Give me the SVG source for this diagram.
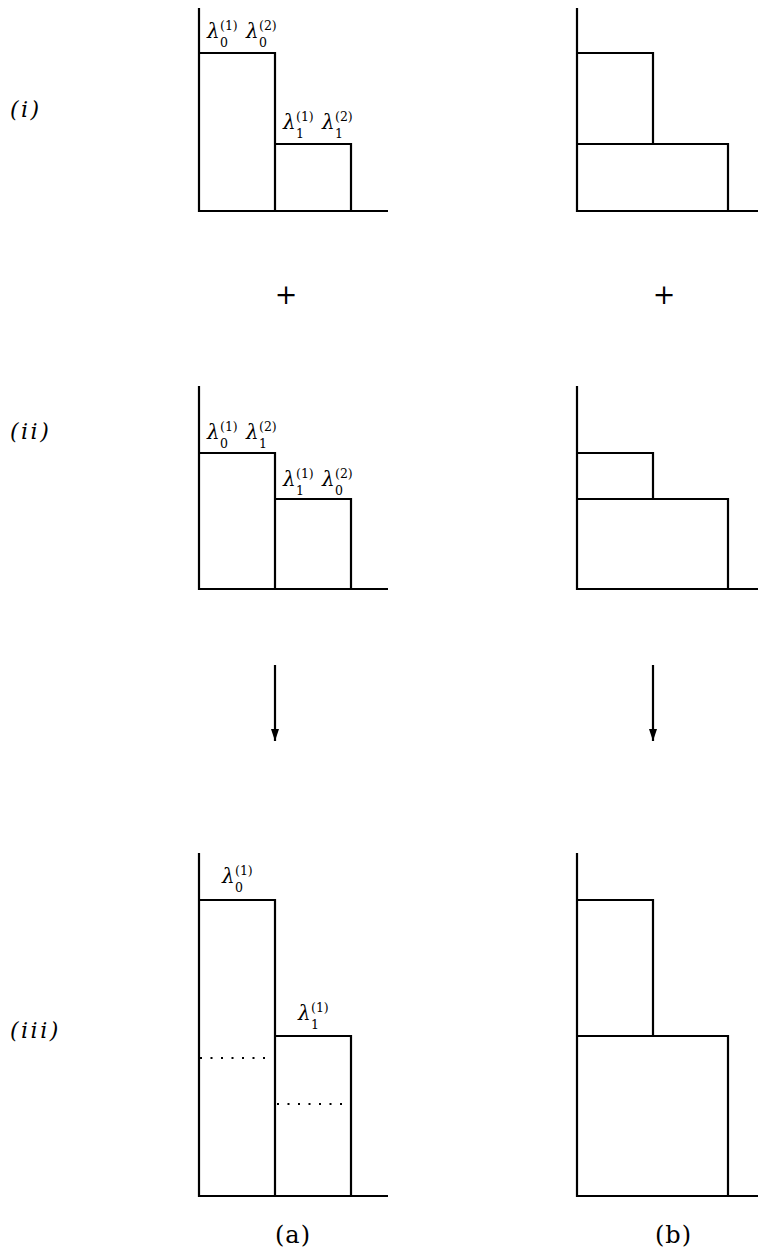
<svg xmlns="http://www.w3.org/2000/svg" width="758" height="1260" viewBox="0 0 758 1260">
<style>
.ln{stroke:#000;stroke-width:2.2;fill:none}
.dot{stroke:#000;stroke-width:2.2;fill:none;stroke-dasharray:2 8.5}
text{font-family:'DejaVu Serif','Liberation Serif',serif}
.lam{font-size:20px;font-style:italic}
.sc{font-size:12.5px}
.lbl{font-size:22px;font-style:italic;letter-spacing:2.5px}
.cap{font-size:24px;letter-spacing:1px}
.plus{font-size:27px;text-anchor:middle;font-weight:300}
</style>
<defs>
<marker id="ah" markerWidth="12" markerHeight="8" refX="12" refY="4" orient="auto" markerUnits="userSpaceOnUse" viewBox="0 0 12 8">
<path d="M0,0 L12,4 L0,8 Z" fill="#000"/>
</marker>
</defs>
<rect width="758" height="1260" fill="#fff"/>

<g id="row-labels">
<text class="lbl" x="10" y="117">(i)</text>
<text class="lbl" x="10" y="439">(ii)</text>
<text class="lbl" x="10" y="1038">(iii)</text>
</g>

<g id="a-i">
<path class="ln" d="M199,8 V211 H388"/>
<path class="ln" d="M199,53 H275 V211"/>
<path class="ln" d="M275,144 H351 V211"/>
<text class="lam" x="207" y="38">λ</text><text class="sc" x="220" y="30">(1)</text><text class="sc" x="220" y="47">0</text>
<text class="lam" x="246" y="38">λ</text><text class="sc" x="259" y="30">(2)</text><text class="sc" x="259" y="47">0</text>
<text class="lam" x="283" y="129">λ</text><text class="sc" x="296" y="121">(1)</text><text class="sc" x="296" y="138">1</text>
<text class="lam" x="322" y="129">λ</text><text class="sc" x="335" y="121">(2)</text><text class="sc" x="335" y="138">1</text>
</g>

<g id="b-i">
<path class="ln" d="M577,8 V211 H758"/>
<path class="ln" d="M577,53 H653 V144"/>
<path class="ln" d="M577,144 H728 V211"/>
</g>

<g id="plus">
<text class="plus" x="286" y="304">+</text>
<text class="plus" x="664" y="304">+</text>
</g>

<g id="a-ii">
<path class="ln" d="M199,386 V589 H388"/>
<path class="ln" d="M199,453 H275 V589"/>
<path class="ln" d="M275,499 H351 V589"/>
<text class="lam" x="207" y="439">λ</text><text class="sc" x="220" y="431">(1)</text><text class="sc" x="220" y="448">0</text>
<text class="lam" x="246" y="439">λ</text><text class="sc" x="259" y="431">(2)</text><text class="sc" x="259" y="448">1</text>
<text class="lam" x="283" y="486">λ</text><text class="sc" x="296" y="478">(1)</text><text class="sc" x="296" y="495">1</text>
<text class="lam" x="322" y="486">λ</text><text class="sc" x="335" y="478">(2)</text><text class="sc" x="335" y="495">0</text>
</g>

<g id="b-ii">
<path class="ln" d="M577,386 V589 H758"/>
<path class="ln" d="M577,453 H653 V499"/>
<path class="ln" d="M577,499 H728 V589"/>
</g>

<g id="connectors">
<line class="ln" x1="275" y1="665" x2="275" y2="741" marker-end="url(#ah)"/>
<line class="ln" x1="653" y1="665" x2="653" y2="741" marker-end="url(#ah)"/>
</g>

<g id="a-iii">
<path class="ln" d="M199,853 V1196 H388"/>
<path class="ln" d="M199,900 H275 V1196"/>
<path class="ln" d="M275,1036 H351 V1196"/>
<path class="dot" d="M200,1058 H272"/>
<path class="dot" d="M277,1104 H348"/>
<text class="lam" x="222" y="883">λ</text><text class="sc" x="235" y="875">(1)</text><text class="sc" x="235" y="892">0</text>
<text class="lam" x="298" y="1020">λ</text><text class="sc" x="311" y="1012">(1)</text><text class="sc" x="311" y="1029">1</text>
</g>

<g id="b-iii">
<path class="ln" d="M577,853 V1196 H758"/>
<path class="ln" d="M577,900 H653 V1036"/>
<path class="ln" d="M577,1036 H728 V1196"/>
</g>

<g id="captions">
<text class="cap" x="275" y="1243">(a)</text>
<text class="cap" x="655" y="1243">(b)</text>
</g>
</svg>
